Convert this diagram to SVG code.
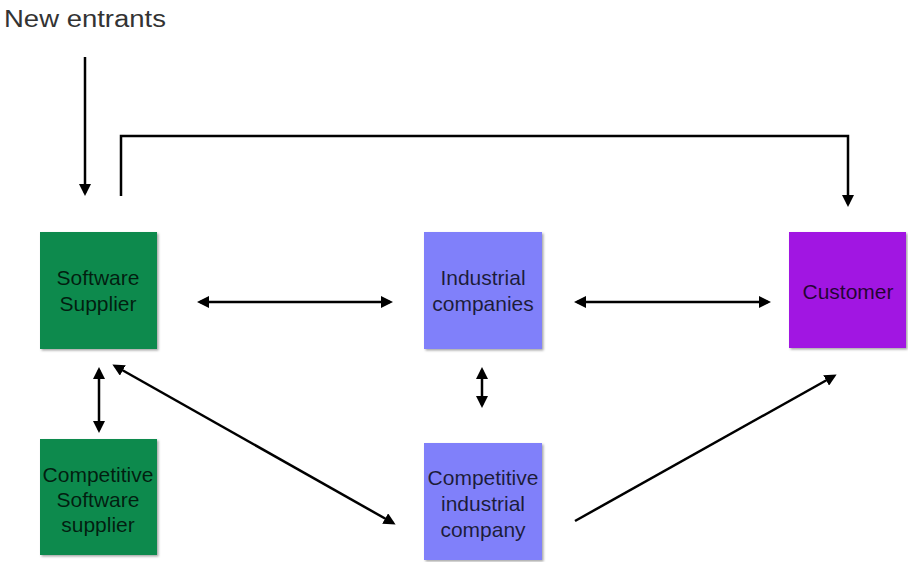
<svg xmlns="http://www.w3.org/2000/svg" width="908" height="562" viewBox="0 0 908 562">
  <style>
    .lbl { font-family: "Liberation Sans", Arial, sans-serif; font-size: 21px; fill: #000; fill-opacity: 0.78; text-anchor: middle; }
    .title { font-family: "Liberation Sans", Arial, sans-serif; font-size: 23px; fill: #333; }
    .conn { stroke: #000; stroke-width: 2.5; fill: none; }
    .green { fill: #0b8a4e; }
    .blue { fill: #8080fa; }
    .purple { fill: #a116e2; }
  </style>
  <defs>
    <marker id="arrow" markerUnits="userSpaceOnUse" markerWidth="12" markerHeight="12" viewBox="0 0 12 12" refX="9" refY="6" orient="auto-start-reverse">
      <path d="M0,0 L12,6 L0,12 z" fill="#000"/>
    </marker>
    <filter id="shadow" x="-10%" y="-10%" width="125%" height="125%">
      <feDropShadow dx="1.5" dy="1.5" stdDeviation="1.2" flood-color="#000" flood-opacity="0.35"/>
    </filter>
  </defs>

  <text class="title" x="4" y="27" textLength="162" lengthAdjust="spacingAndGlyphs">New entrants</text>

  <g id="software-supplier">
    <rect class="green" x="40" y="232" width="117" height="117" filter="url(#shadow)"/>
    <text class="lbl" x="98" y="285">Software</text>
    <text class="lbl" x="98" y="311">Supplier</text>
  </g>

  <g id="competitive-software-supplier">
    <rect class="green" x="40" y="439" width="117" height="116" filter="url(#shadow)"/>
    <text class="lbl" x="98" y="482">Competitive</text>
    <text class="lbl" x="98" y="507">Software</text>
    <text class="lbl" x="98" y="532">supplier</text>
  </g>

  <g id="industrial-companies">
    <rect class="blue" x="424" y="232" width="118" height="117" filter="url(#shadow)"/>
    <text class="lbl" x="483" y="285">Industrial</text>
    <text class="lbl" x="483" y="311">companies</text>
  </g>

  <g id="competitive-industrial-company">
    <rect class="blue" x="424" y="443" width="118" height="117" filter="url(#shadow)"/>
    <text class="lbl" x="483" y="485">Competitive</text>
    <text class="lbl" x="483" y="511">industrial</text>
    <text class="lbl" x="483" y="537">company</text>
  </g>

  <g id="customer">
    <rect class="purple" x="789" y="232" width="117" height="116" filter="url(#shadow)"/>
    <text class="lbl" x="848" y="299">Customer</text>
  </g>

  <g id="connectors">
    <!-- new entrants into software supplier -->
    <line class="conn" x1="85" y1="57" x2="85" y2="193" marker-end="url(#arrow)"/>
    <!-- software supplier direct to customer -->
    <polyline class="conn" points="121,196 121,136 848,136 848,204" marker-end="url(#arrow)"/>
    <!-- software supplier <-> industrial companies -->
    <line class="conn" x1="200" y1="302" x2="390" y2="302" marker-start="url(#arrow)" marker-end="url(#arrow)"/>
    <!-- industrial companies <-> customer -->
    <line class="conn" x1="577" y1="302" x2="768" y2="302" marker-start="url(#arrow)" marker-end="url(#arrow)"/>
    <!-- software supplier <-> competitive software supplier -->
    <line class="conn" x1="99" y1="370" x2="99" y2="430" marker-start="url(#arrow)" marker-end="url(#arrow)"/>
    <!-- industrial companies <-> competitive industrial company -->
    <line class="conn" x1="482" y1="370" x2="482" y2="405" marker-start="url(#arrow)" marker-end="url(#arrow)"/>
    <!-- software supplier <-> competitive industrial company -->
    <line class="conn" x1="115" y1="366" x2="393" y2="523" marker-start="url(#arrow)" marker-end="url(#arrow)"/>
    <!-- competitive industrial company to customer -->
    <line class="conn" x1="575" y1="521" x2="834" y2="376" marker-end="url(#arrow)"/>
  </g>
</svg>
